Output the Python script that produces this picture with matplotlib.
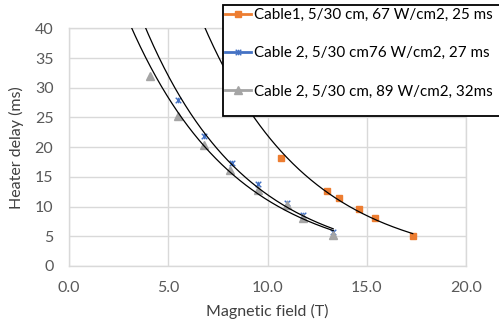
import matplotlib
matplotlib.use("Agg")
import matplotlib.pyplot as plt
from matplotlib.path import Path
from matplotlib.patches import Rectangle
import numpy as np

plt.rcParams["font.family"] = ["Lato", "DejaVu Sans"]

# data
cable1_x = [10.7, 13.0, 13.6, 14.6, 15.4, 17.3]
cable1_y = [18.1, 12.7, 11.4, 9.6, 8.0, 5.1]
cable2a_x = [5.5, 6.8, 8.2, 9.5, 11.0, 11.8, 13.3]
cable2a_y = [28.0, 21.9, 17.4, 13.8, 10.6, 8.6, 5.7]
cable2b_x = [4.1, 5.5, 6.8, 8.1, 9.5, 11.0, 11.8, 13.3]
cable2b_y = [32.0, 25.3, 20.3, 16.2, 12.8, 10.2, 8.1, 5.2]
labels = [
    "Cable1, 5/30 cm, 67 W/cm2, 25 ms",
    "Cable 2, 5/30 cm76 W/cm2, 27 ms",
    "Cable 2, 5/30 cm, 89 W/cm2, 32ms",
]
x_ticks = [0, 5, 10, 15, 20]
y_ticks = [0, 5, 10, 15, 20, 25, 30, 35, 40]

ORANGE, BLUE, GRAY = "#ED7D31", "#4472C4", "#A5A5A5"
GRID = "#D9D9D9"
TXT = "#595959"

# Excel style "star" marker: an X with a vertical bar
star = Path(
    [(-1, -1), (1, 1), (-1, 1), (1, -1), (0, -1), (0, 1)],
    [Path.MOVETO, Path.LINETO, Path.MOVETO, Path.LINETO, Path.MOVETO, Path.LINETO],
)

fig = plt.figure(figsize=(4.99, 3.29), dpi=100)
ax = fig.add_axes([0.1377, 0.1915, 0.797, 0.7225])

series = [
    (cable1_x, cable1_y, ORANGE, "s", 4.5),
    (cable2a_x, cable2a_y, BLUE, star, 4.0),
    (cable2b_x, cable2b_y, GRAY, "^", 5.5),
]
handles = []
for (xs, ys, color, marker, ms), label in zip(series, labels):
    ax.plot(xs, ys, linestyle="none", marker=marker, color=color,
            markersize=ms, markeredgewidth=1.0, zorder=3)
    h, = plt.plot([], [], color=color, linewidth=2, marker=marker,
                  markersize=ms, markeredgewidth=1.0, label=label)
    handles.append(h)

# exponential trendlines, extended backwards to the top of the plot
for xs, ys, *_ in series:
    b, a = np.polyfit(xs, np.log(ys), 1)
    xx = np.linspace(0, max(xs), 400)
    ax.plot(xx, np.exp(a + b * xx), color="black", linewidth=0.9, zorder=4)

ax.set_xlim(0, 20)
ax.set_ylim(0, 40)
ax.set_xticks(x_ticks)
ax.set_xticklabels([f"{v:.1f}" for v in x_ticks])
ax.set_yticks(y_ticks)
ax.tick_params(length=0, labelsize=11.5, labelcolor=TXT)
ax.tick_params(axis="x", pad=11)
ax.tick_params(axis="y", pad=11)
ax.grid(True, color=GRID, linewidth=1.0)
ax.set_axisbelow(True)
for sp in ax.spines.values():
    sp.set_color(GRID)
    sp.set_linewidth(1.0)

ax.set_xlabel("Magnetic field (T)", fontsize=11.5, color="#404040", labelpad=6)
ax.set_ylabel("Heater delay (ms)", fontsize=11.5, color="#404040", labelpad=8)

# legend box sits over the plot and runs off the right edge
fig.patches.append(Rectangle((222.7 / 499, 1 - 116 / 329), 0.6, (116 - 5) / 329,
                             transform=fig.transFigure, facecolor="white",
                             edgecolor="black", linewidth=1.3, zorder=2))
fig.legend(handles=handles, loc="upper left",
           bbox_to_anchor=(225 / 499, 1 - 8 / 329), frameon=False,
           fontsize=10.9, borderpad=0, borderaxespad=0, handlelength=1.75,
           handletextpad=0.15, labelspacing=1.6, numpoints=1)

fig.savefig("out.png", dpi=100)
